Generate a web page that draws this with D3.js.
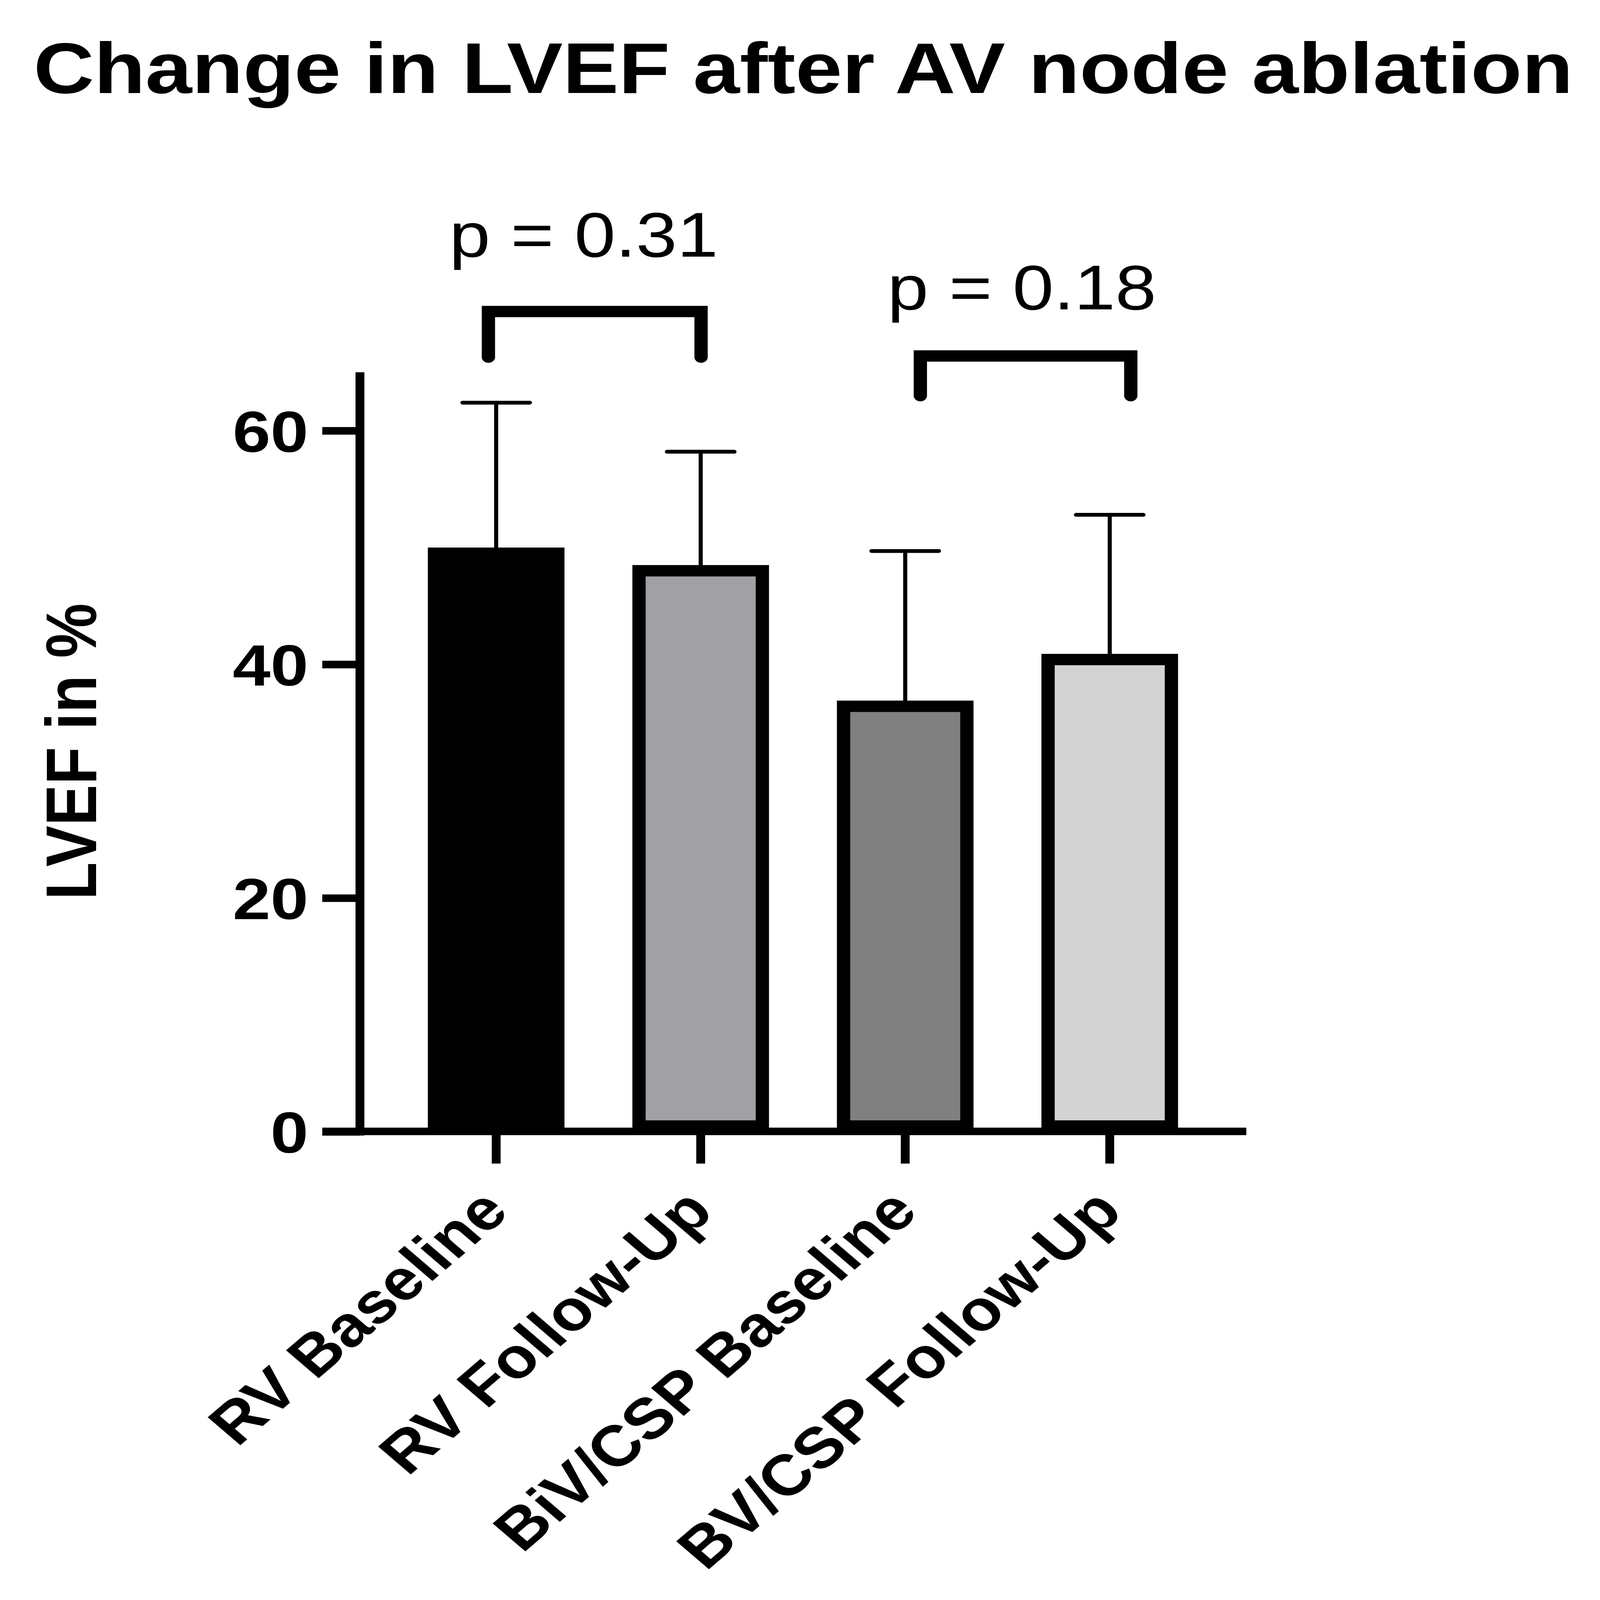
<!DOCTYPE html>
<html>
<head>
<meta charset="utf-8">
<script src="https://cdn.jsdelivr.net/npm/d3@7"></script>
<style>
  html, body { margin: 0; padding: 0; width: 100%; height: 100%; overflow: hidden; background: #fff; }
  svg { display: block; font-family: "Liberation Sans", Arial, sans-serif; }
</style>
</head>
<body>
<svg viewBox="0 0 4334 5067" preserveAspectRatio="none" width="100%" height="100%"></svg>
<script>
const categories = ["RV Baseline", "RV Follow-Up", "BiV/CSP Baseline", "BV/CSP Follow-Up"];
const means = [50.0, 48.5, 36.9, 40.9];
const sds = [12.4, 9.7, 12.8, 11.9];
const fills = ["#000000", "#a1a0a4", "#808080", "#d3d3d3"];
const yTicks = [0, 20, 40, 60];
const comparisons = [
  { from: 0, to: 1, label: "p = 0.31" },
  { from: 2, to: 3, label: "p = 0.18" }
];

const svg = d3.select("svg");

// plot frame, in viewBox units
const x0 = 1067, x1 = 3283;
const yBase = 3584, yTop = 1179;

const x = d3.scaleBand()
  .domain(categories)
  .range([x0, x1])
  .paddingInner(0.332)
  .paddingOuter(0.166);

const y = d3.scaleLinear()
  .domain([0, 65])
  .range([yBase, yTop]);

const barStroke = 36;

// bars
svg.selectAll(".bar")
  .data(categories)
  .enter().append("rect")
  .attr("class", "bar")
  .attr("x", d => x(d) + barStroke / 2)
  .attr("width", x.bandwidth() - barStroke)
  .attr("y", (d, i) => y(means[i]) + barStroke / 2)
  .attr("height", (d, i) => y(0) - y(means[i]) - barStroke)
  .style("fill", (d, i) => fills[i])
  .style("stroke", "#000")
  .style("stroke-width", barStroke);

// error bars (upper SD only)
const cx = d => x(d) + x.bandwidth() / 2;

svg.selectAll(".err")
  .data(categories)
  .enter().append("line")
  .attr("class", "err")
  .attr("x1", cx).attr("x2", cx)
  .attr("y1", (d, i) => y(means[i]) + 2)
  .attr("y2", (d, i) => y(means[i] + sds[i]))
  .style("stroke", "#000")
  .style("stroke-width", 11);

svg.selectAll(".cap")
  .data(categories)
  .enter().append("line")
  .attr("class", "cap")
  .attr("x1", d => cx(d) - 91).attr("x2", d => cx(d) + 91)
  .attr("y1", (d, i) => y(means[i] + sds[i]))
  .attr("y2", (d, i) => y(means[i] + sds[i]))
  .style("stroke", "#000")
  .style("stroke-width", 12)
  .style("stroke-linecap", "round");

// y axis
const yAxis = svg.append("g")
  .attr("transform", "translate(975,0)")
  .call(d3.axisLeft(y).tickValues(yTicks).tickSize(102).tickSizeOuter(0).tickPadding(38));

yAxis.select(".domain")
  .attr("d", `M0,${yTop}V${yBase + 12}`)
  .style("stroke", "#000")
  .style("stroke-width", 24);
yAxis.selectAll(".tick line")
  .style("stroke", "#000")
  .style("stroke-width", 24);
yAxis.selectAll(".tick text")
  .attr("dy", "0.36em")
  .style("font-size", "184px")
  .style("font-weight", "bold")
  .style("fill", "#000");

// x axis
const xAxis = svg.append("g")
  .attr("transform", `translate(0,${yBase - 1})`)
  .call(d3.axisBottom(x).tickSize(102).tickSizeOuter(0).tickFormat(""));

xAxis.select(".domain")
  .attr("d", "M873,0H3376")
  .style("stroke", "#000")
  .style("stroke-width", 24);
xAxis.selectAll(".tick line")
  .style("stroke", "#000")
  .style("stroke-width", 24);

// rotated category labels
svg.selectAll(".xlabel")
  .data(categories)
  .enter().append("text")
  .attr("class", "xlabel")
  .attr("transform", d => `translate(${cx(d) + 40},3844) rotate(-45)`)
  .attr("text-anchor", "end")
  .style("font-size", "182px")
  .style("font-weight", "bold")
  .text(d => d);

// significance brackets
const bracketLayout = [
  { top: 70.2, foot: 66.3, dxFrom: -21, dxTo: 1, text: 74.9, dxText: -30 },
  { top: 66.4, foot: 63.0, dxFrom: 41, dxTo: 57, text: 70.4, dxText: -10 }
];

comparisons.forEach((c, i) => {
  const L = bracketLayout[i];
  const xa = cx(categories[c.from]) + L.dxFrom;
  const xb = cx(categories[c.to]) + L.dxTo;
  svg.append("path")
    .attr("d", `M${xa},${y(L.foot)}V${y(L.top)}H${xb}V${y(L.foot)}`)
    .style("fill", "none")
    .style("stroke", "#000")
    .style("stroke-width", 36)
    .style("stroke-linejoin", "miter")
    .style("stroke-linecap", "round");
  svg.append("text")
    .attr("x", (xa + xb) / 2 + L.dxText)
    .attr("y", y(L.text))
    .attr("text-anchor", "middle")
    .style("font-size", "200px")
    .text(c.label);
});

// y axis title
svg.append("text")
  .attr("transform", "translate(260,2380) rotate(-90)")
  .attr("text-anchor", "middle")
  .style("font-size", "195px")
  .style("font-weight", "bold")
  .text("LVEF in %");

// chart title
svg.append("text")
  .attr("x", 2176)
  .attr("y", 295)
  .attr("text-anchor", "middle")
  .style("font-size", "227px")
  .style("font-weight", "bold")
  .text("Change in LVEF after AV node ablation");
</script>
</body>
</html>
